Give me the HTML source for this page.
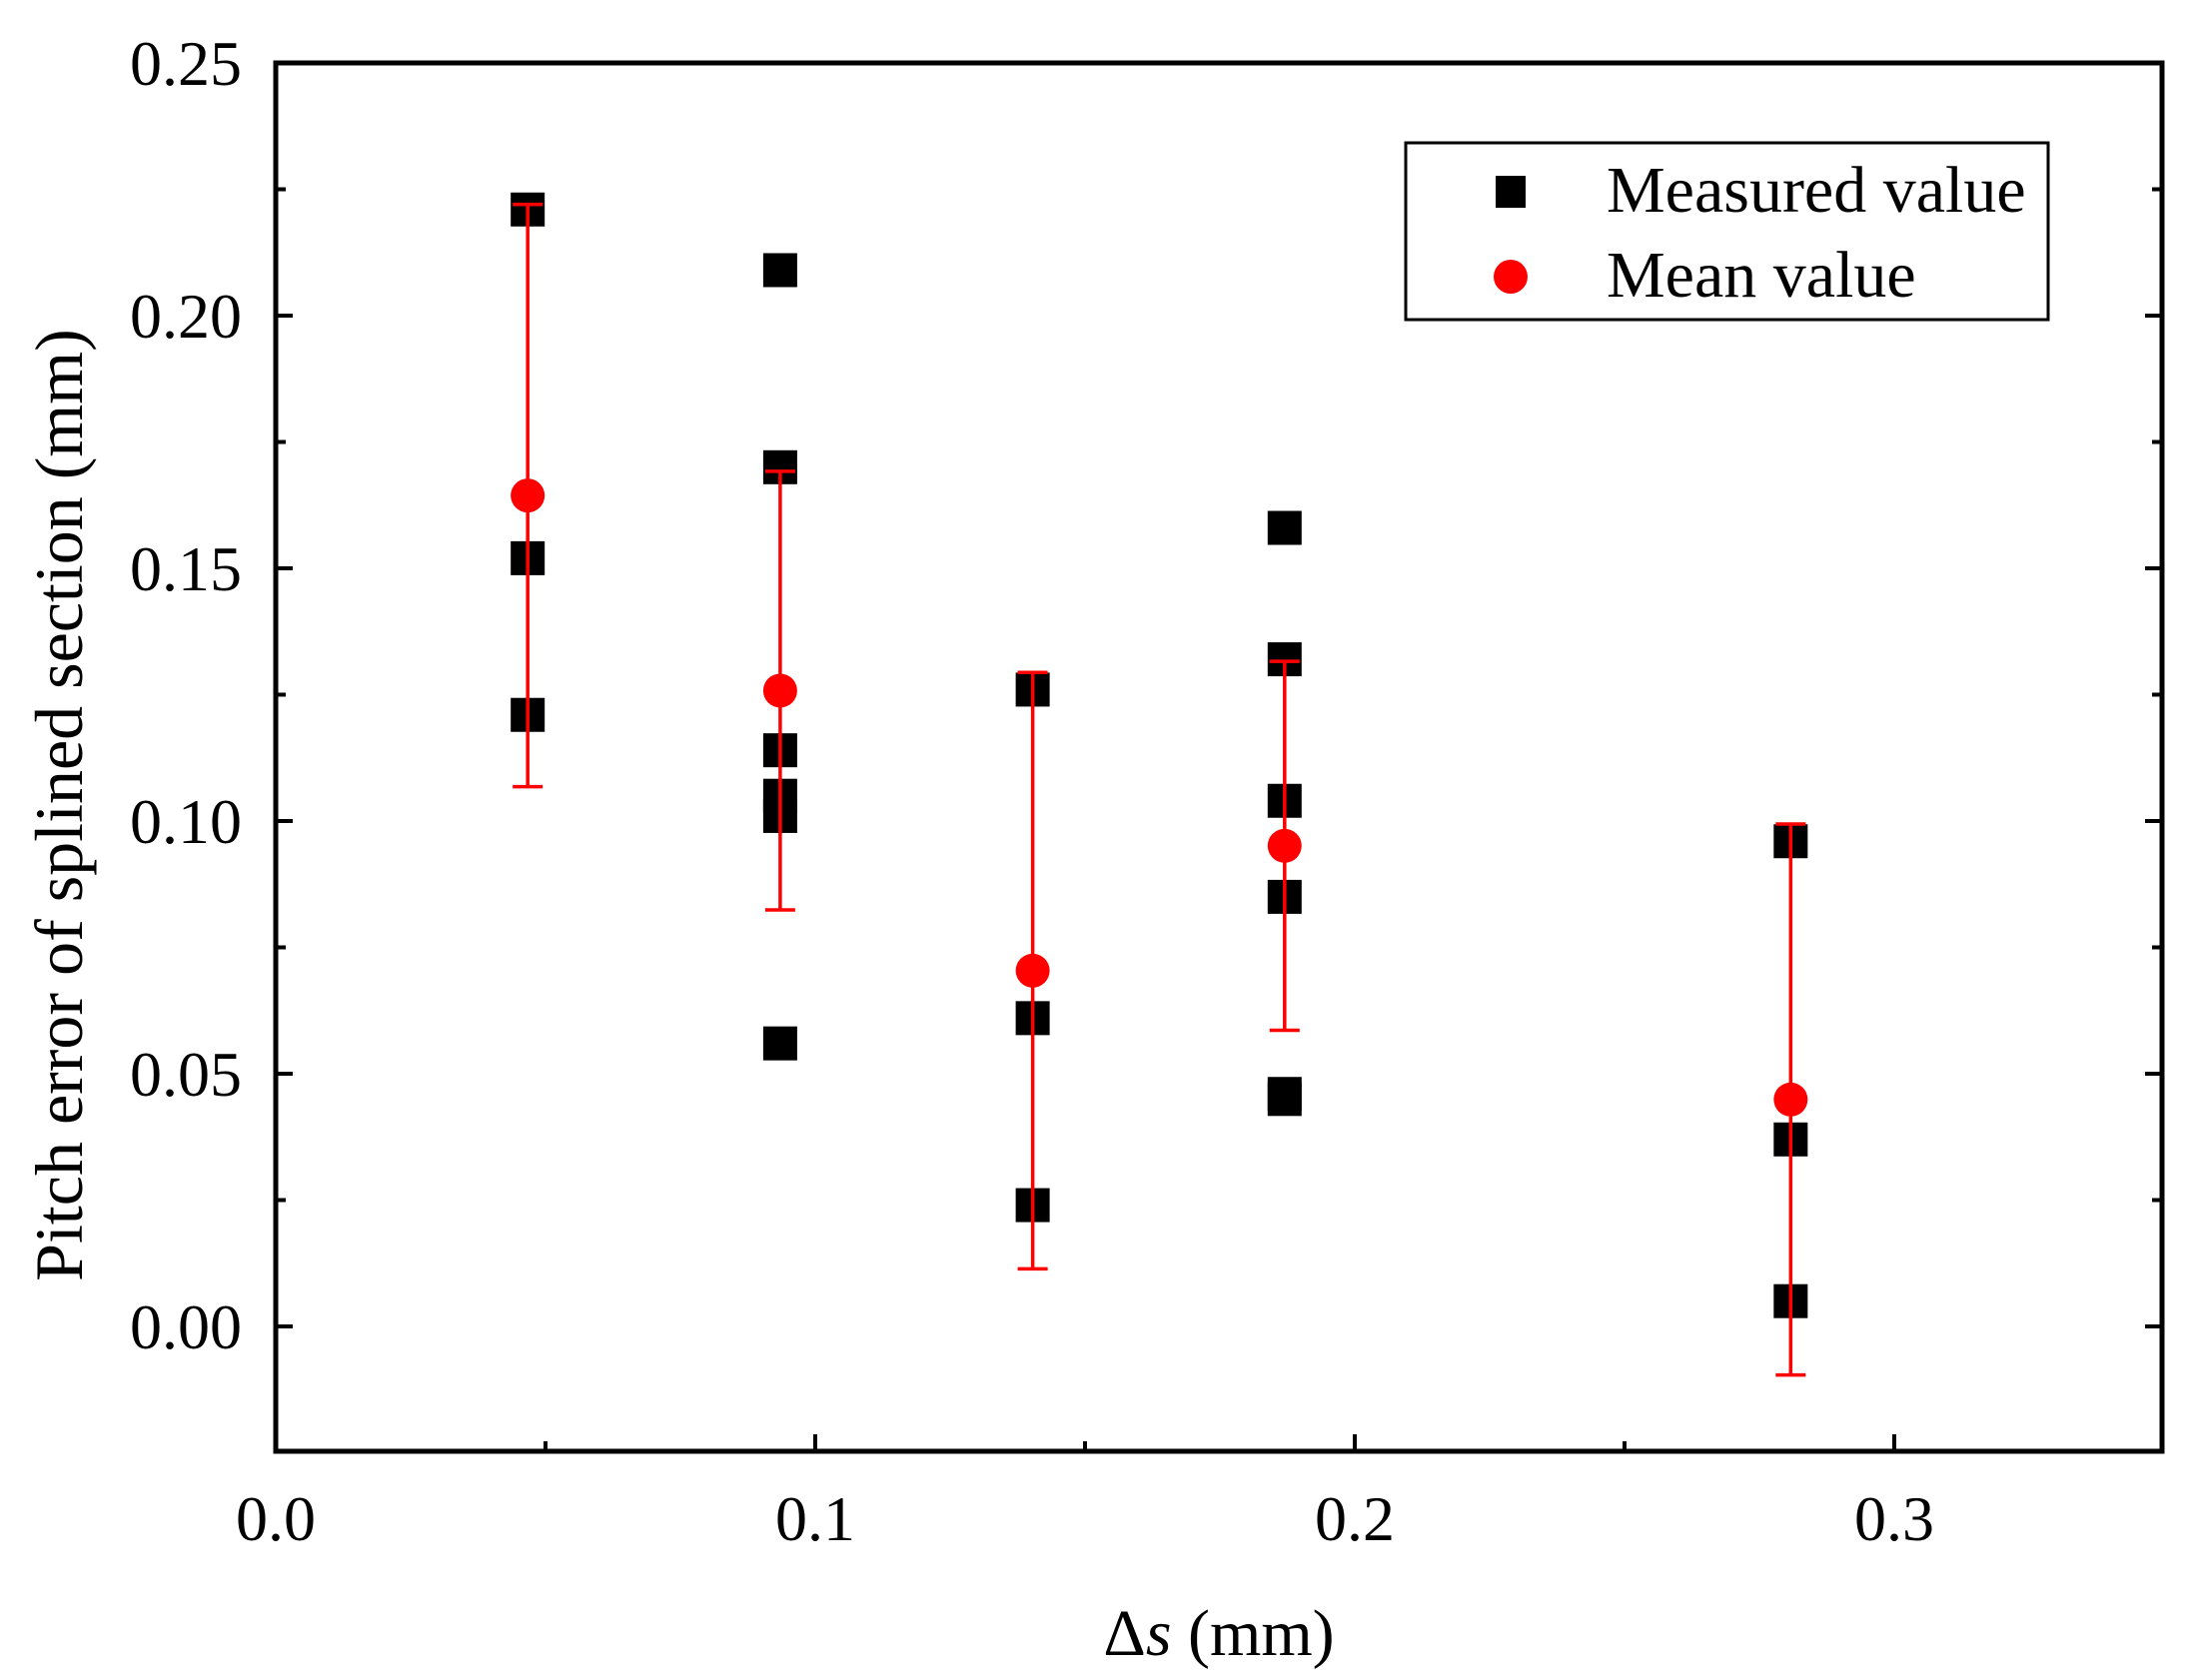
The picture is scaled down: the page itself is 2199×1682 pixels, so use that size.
<!DOCTYPE html>
<html><head><meta charset="utf-8"><style>
html,body{margin:0;padding:0;background:#fff;}
svg{display:block;font-family:"Liberation Serif",serif;}
</style></head><body>
<svg id="chart" width="2199" height="1682" viewBox="0 0 2199 1682">
<g id="marks"></g>
</svg>
<script>
const xGroups=[0.0467,0.0935,0.1403,0.187,0.2808];
const measured=[[0.221,0.152,0.121],[0.209,0.170,0.114,0.105,0.101,0.056],[0.126,0.061,0.024],[0.158,0.132,0.104,0.085,0.046,0.045],[0.096,0.037,0.005]];
const means=[0.1644,0.1258,0.0704,0.0951,0.0449];
const errs=[0.0576,0.0434,0.0590,0.0365,0.0545];
const xTicks=[0,0.1,0.2,0.3];
const xTickLabels=["0.0","0.1","0.2","0.3"];
const yTicks=[0,0.05,0.10,0.15,0.20,0.25];
const yTickLabels=["0.00","0.05","0.10","0.15","0.20","0.25"];

const L=276,R=2164,T=63,B=1453;
const X=v=>L+v*5400;
const Y=v=>1328-v*(1265/0.25);
const NS="http://www.w3.org/2000/svg";
const svg=document.getElementById('chart');
const g=document.getElementById('marks');
function mk(tag,attrs,parent){const e=document.createElementNS(NS,tag);for(const k in attrs)e.setAttribute(k,attrs[k]);(parent||svg).appendChild(e);return e;}

let fr=mk('rect',{x:L,y:T,width:R-L,height:B-T,fill:'none',stroke:'#000','stroke-width':5});



yTicks.forEach((v,i)=>{
  const y=Y(v);
  let t=mk('line',{x1:L,x2:L+17,y1:y,y2:y,stroke:'#000','stroke-width':4});
  
  
  let t2=mk('line',{x1:R-17,x2:R,y1:y,y2:y,stroke:'#000','stroke-width':4});
  
  
  if(i<yTicks.length-1){
    const ym=Y(v+0.025);
    let m=mk('line',{x1:L,x2:L+10,y1:ym,y2:ym,stroke:'#000','stroke-width':4});
    
    
    let m2=mk('line',{x1:R-10,x2:R,y1:ym,y2:ym,stroke:'#000','stroke-width':4});
    
    
  }
  let tx=mk('text',{x:242,y:y+22,'text-anchor':'end','font-size':64});
  tx.textContent=yTickLabels[i];
  
  
});
xTicks.forEach((v,i)=>{
  const x=X(v);
  let t=mk('line',{x1:x,x2:x,y1:B,y2:B-17,stroke:'#000','stroke-width':4});
  
  
  const xm=X(v+0.05);
  if(xm<R){
    let m=mk('line',{x1:xm,x2:xm,y1:B,y2:B-10,stroke:'#000','stroke-width':4});
    
    
  }
  let tx=mk('text',{x:x,y:1542,'text-anchor':'middle','font-size':64});
  tx.textContent=xTickLabels[i];
  
  
});

xGroups.forEach((xv,i)=>{
  measured[i].forEach(v=>{
    let s=mk('rect',{x:X(xv)-17,y:Y(v)-17,width:34,height:34,fill:'#000'},g);
    
    
  });
});
xGroups.forEach((xv,i)=>{
  const x=X(xv),y1=Y(means[i]+errs[i]),y2=Y(means[i]-errs[i]);
  let eb=mk('g',{stroke:'#ff0000','stroke-width':3.5},g);
  
  
  mk('line',{x1:x,x2:x,y1:y1,y2:y2},eb);
  mk('line',{x1:x-15,x2:x+15,y1:y1,y2:y1},eb);
  mk('line',{x1:x-15,x2:x+15,y1:y2,y2:y2},eb);
  let c=mk('circle',{cx:x,cy:Y(means[i]),r:17,fill:'#ff0000'},g);
  
  
});
</script>
<svg style="position:absolute;left:0;top:0" width="2199" height="1682">
<g>
<rect x="1407" y="143" width="643" height="177" fill="#fff" stroke="#000" stroke-width="3"/>
<rect x="1497" y="176" width="30" height="32" fill="#000"/>
<text x="1608" y="212" font-size="66" font-family="Liberation Serif, serif">Measured value</text>
<circle cx="1512" cy="277" r="17" fill="#ff0000"/>
<text x="1608" y="297" font-size="66" font-family="Liberation Serif, serif">Mean value</text>
</g>
<text transform="translate(82,806) rotate(-90)" text-anchor="middle" font-size="68" font-family="Liberation Serif, serif">Pitch error of splined section (mm)</text>
<text x="1220" y="1657" text-anchor="middle" font-size="66" font-family="Liberation Serif, serif">Δ<tspan font-style="italic">s</tspan> (mm)</text>
</svg>
</body></html>
